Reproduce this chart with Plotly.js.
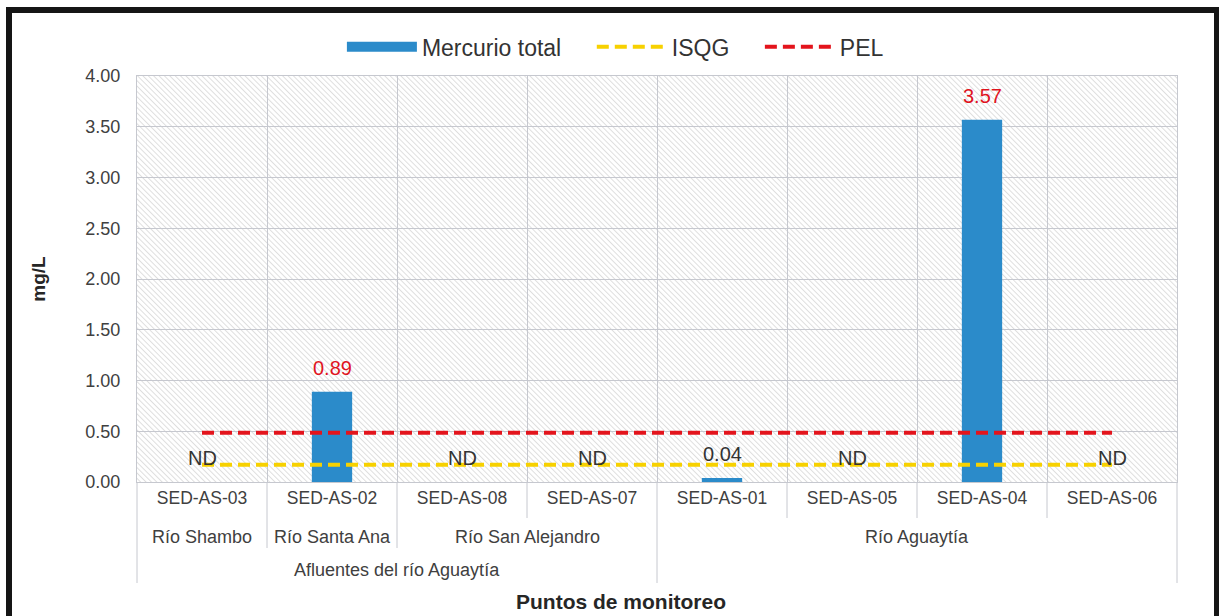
<!DOCTYPE html>
<html>
<head>
<meta charset="utf-8">
<script src="https://cdn.plot.ly/plotly-3.0.1.min.js"></script>
<style>
  body { margin: 0; background: #fff; }
  #chart {
    position: absolute; left: 6px; top: 7px;
    width: 1202px; height: 603px;
    border: 6px solid #151515; border-bottom: none;
  }
</style>
</head>
<body>
<div id="chart"></div>
<script>
// puntos de monitoreo y su agrupacion
var puntos = ['SED-AS-03', 'SED-AS-02', 'SED-AS-08', 'SED-AS-07', 'SED-AS-01', 'SED-AS-05', 'SED-AS-04', 'SED-AS-06'];
var rios = ['Río Shambo', 'Río Santa Ana', 'Río San Alejandro', 'Río San Alejandro', 'Río Aguaytía', 'Río Aguaytía', 'Río Aguaytía', 'Río Aguaytía'];
var cuencas = ['Afluentes del río Aguaytía', 'Afluentes del río Aguaytía', 'Afluentes del río Aguaytía', 'Afluentes del río Aguaytía', '', '', '', ''];

// mercurio total (null = ND)
var mercurio = [null, 0.89, null, null, 0.04, null, 3.57, null];
var isqg = [0.17, 0.17, 0.17, 0.17, 0.17, 0.17, 0.17, 0.17];
var pel = [0.486, 0.486, 0.486, 0.486, 0.486, 0.486, 0.486, 0.486];

var font = 'Liberation Sans, Arial, sans-serif';
var n = puntos.length;
var plotH = 406;
var sp = '&nbsp;&nbsp;&nbsp;&nbsp;';

var trBar = {
  x: puntos,
  y: mercurio.map(function (v) { return v === null ? 0 : v; }),
  type: 'bar',
  width: 0.31,
  marker: { color: '#2b8bca' },
  showlegend: false,
  hoverinfo: 'none'
};
// solo para la leyenda (rectangulo ancho)
var trBarLeg = {
  x: [puntos[0]], y: [null],
  type: 'scatter', mode: 'lines',
  name: 'Mercurio total' + sp,
  line: { color: '#2b8bca', width: 12 },
  hoverinfo: 'none'
};
var trIsqg = {
  x: puntos, y: isqg,
  type: 'scatter', mode: 'lines',
  name: 'ISQG' + sp,
  line: { color: '#f7d100', width: 4, dash: '12px,6px' },
  hoverinfo: 'none'
};
var trPel = {
  x: puntos, y: pel,
  type: 'scatter', mode: 'lines',
  name: 'PEL',
  line: { color: '#e3141c', width: 4, dash: '12px,6px' },
  hoverinfo: 'none'
};

// etiquetas de datos
var annotations = [];
mercurio.forEach(function (v, i) {
  annotations.push({
    x: puntos[i], y: v === null ? 0 : v, xref: 'x', yref: 'y',
    text: v === null ? 'ND' : v.toFixed(2),
    showarrow: false, yshift: 24,
    font: { family: font, size: 20, color: (v !== null && v > pel[i]) ? '#e0141e' : '#333333' }
  });
});

// grupos de categorias (runs contiguos)
function runs(arr) {
  var out = [], s = 0;
  for (var i = 1; i <= arr.length; i++) {
    if (i === arr.length || arr[i] !== arr[s]) { out.push({ label: arr[s], a: s, b: i - 1 }); s = i; }
  }
  return out;
}
runs(rios).forEach(function (g) {
  annotations.push({
    x: (g.a + g.b) / 2, xref: 'x', y: -(537 - 482) / plotH, yref: 'paper',
    text: g.label, showarrow: false, yanchor: 'middle',
    font: { family: font, size: 18, color: '#404040' }
  });
});
runs(cuencas).forEach(function (g) {
  if (!g.label) return;
  annotations.push({
    x: (g.a + g.b) / 2, xref: 'x', y: -(570 - 482) / plotH, yref: 'paper',
    text: g.label, showarrow: false, yanchor: 'middle',
    font: { family: font, size: 18, color: '#404040' }
  });
});
annotations.push({
  x: (620 - 136) / 1040, xref: 'paper', y: -(601 - 482) / plotH, yref: 'paper',
  text: '<b>Puntos de monitoreo</b>', showarrow: false, yanchor: 'middle',
  font: { family: font, size: 21, color: '#262626' }
});

// separadores del eje de categorias
var shapes = [];
for (var b = 0; b <= n; b++) {
  var depth;
  if (b === 0 || b === n || cuencas[b] !== cuencas[b - 1]) depth = 583;
  else if (rios[b] !== rios[b - 1]) depth = 548;
  else depth = 518;
  shapes.push({
    type: 'line', xref: 'paper', yref: 'paper',
    x0: b / n, x1: b / n, y0: 0, y1: -(depth - 482) / plotH,
    line: { color: '#c6c8cf', width: 1 }
  });
}

// fondo rayado del area de trazado
var svg = '<svg xmlns="http://www.w3.org/2000/svg" width="1040" height="406">' +
  '<defs><pattern id="h" width="3.8" height="10" patternUnits="userSpaceOnUse" patternTransform="rotate(-45)">' +
  '<rect x="0" y="0" width="1" height="10" fill="#dedede"/></pattern></defs>' +
  '<rect width="1040" height="406" fill="url(#h)"/></svg>';

var layout = {
  width: 1202, height: 603,
  margin: { l: 125, r: 37, t: 63, b: 134 },
  paper_bgcolor: '#ffffff',
  plot_bgcolor: '#ffffff',
  font: { family: font, size: 16, color: '#404040' },
  showlegend: true,
  legend: {
    orientation: 'h', x: 0.46, xanchor: 'center', y: 1.072, yanchor: 'middle',
    font: { family: font, size: 23, color: '#333333' },
    itemwidth: 70, traceorder: 'normal'
  },
  xaxis: {
    type: 'category', range: [-0.5, n - 0.5],
    tickson: 'boundaries', showgrid: true, gridcolor: '#c6c8cf', gridwidth: 1,
    ticks: '', showline: true, linecolor: '#c6c8cf', mirror: true,
    tickfont: { family: font, size: 17.5, color: '#404040' },
    fixedrange: true
  },
  yaxis: {
    range: [0, 4], dtick: 0.5, tickformat: '.2f',
    showgrid: true, gridcolor: '#c6c8cf', gridwidth: 1,
    zeroline: false, showline: true, linecolor: '#c6c8cf', mirror: true,
    ticklabelstandoff: 12,
    tickfont: { family: font, size: 18, color: '#404040' },
    title: { text: '<b>mg/L</b>', font: { family: font, size: 19, color: '#262626' }, standoff: 34 },
    fixedrange: true
  },
  images: [{
    source: 'data:image/svg+xml;charset=utf-8,' + encodeURIComponent(svg),
    xref: 'paper', yref: 'paper', x: 0, y: 1, sizex: 1, sizey: 1,
    xanchor: 'left', yanchor: 'top', sizing: 'stretch', layer: 'below'
  }],
  annotations: annotations,
  shapes: shapes
};

Plotly.newPlot('chart', [trBar, trBarLeg, trIsqg, trPel], layout, { displayModeBar: false, staticPlot: true });
</script>
</body>
</html>
